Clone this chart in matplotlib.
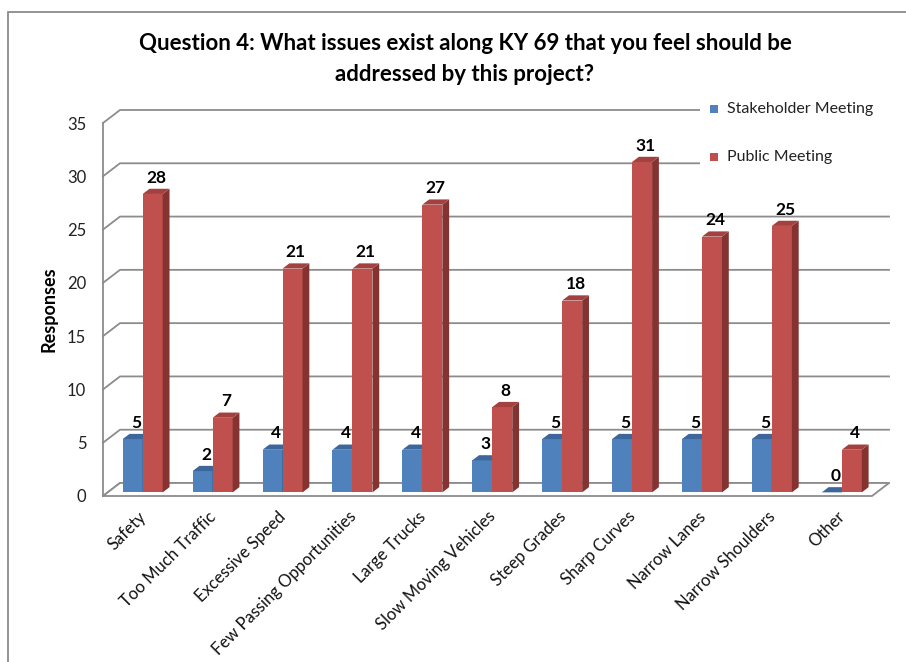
import numpy as np
import matplotlib
matplotlib.use('Agg')
import matplotlib.pyplot as plt
from matplotlib.patches import Polygon, Rectangle

plt.rcParams['font.family'] = ['Lato', 'DejaVu Sans']

# 数据
categories = ['Safety', 'Too Much Traffic', 'Excessive Speed', 'Few Passing Opportunities',
              'Large Trucks', 'Slow Moving Vehicles', 'Steep Grades', 'Sharp Curves',
              'Narrow Lanes', 'Narrow Shoulders', 'Other']
stakeholder = [5, 2, 4, 4, 4, 3, 5, 5, 5, 5, 0]
public = [28, 7, 21, 21, 27, 8, 18, 31, 24, 25, 4]
series_names = ['Stakeholder Meeting', 'Public Meeting']
yticks = [0, 5, 10, 15, 20, 25, 30, 35]

W, H = 906, 662
fig = plt.figure(figsize=(W / 100, H / 100), dpi=100)

# 前平面: x 103..872 px, y 0 -> 496 px, 35 -> 123 px
ax = fig.add_axes([103 / W, (H - 496) / H, 769 / W, 373 / H])
ax.set_xlim(-0.5, 10.5)
ax.set_ylim(0, 35)

px_x = 769 / 11.0   # 每个类别的像素
px_y = 373 / 35.0   # 每个单位的像素
ddx, ddy = 17 / px_x, 13 / px_y   # 底面深度
grid_c = '#8c8c8c'

# 背景墙网格线
for v in yticks:
    ax.plot([-0.5, -0.5 + ddx, 10.5 + ddx], [v, v + ddy, v + ddy],
            color=grid_c, lw=1.3, clip_on=False, zorder=1)
ax.plot([-0.5, -0.5], [0, 35], color=grid_c, lw=1.3, clip_on=False, zorder=1)
# 底面
ax.add_patch(Polygon([(-0.5, 0), (10.5, 0), (10.5 + ddx, ddy), (-0.5 + ddx, ddy)],
                     closed=True, facecolor='white', edgecolor=grid_c, lw=1.3,
                     clip_on=False, zorder=1))

bw = 20 / px_x
off_x, off_y = 0.28 * ddx, 0.28 * ddy
bdx, bdy = 0.4 * ddx, 0.4 * ddy

colors = [('#4f81bd', '#3d679b', '#34567f'), ('#c0504d', '#a3413f', '#843331')]


def draw_bar(x0, h, cols):
    front, top, side = cols
    x = x0 + off_x
    y = off_y
    if h > 0:
        ax.add_patch(Rectangle((x, y), bw, h, facecolor=front, edgecolor='none',
                               clip_on=False, zorder=3))
        ax.add_patch(Polygon([(x + bw, y), (x + bw + bdx, y + bdy), (x + bw + bdx, y + h + bdy),
                              (x + bw, y + h)], closed=True, facecolor=side,
                             edgecolor='none', clip_on=False, zorder=3))
    ax.add_patch(Polygon([(x, y + h), (x + bw, y + h), (x + bw + bdx, y + h + bdy),
                          (x + bdx, y + h + bdy)], closed=True, facecolor=top,
                         edgecolor='none', clip_on=False, zorder=3))
    ax.text(x + bw / 2 + bdx / 2, y + h + bdy + 0.3, f'{h}', ha='center', va='bottom',
            fontsize=12.5, fontweight='bold', color='black', zorder=4)


idx = np.arange(len(categories))
for i in idx:
    draw_bar(i - bw, stakeholder[i], colors[0])
    draw_bar(i, public[i], colors[1])

for s in ax.spines.values():
    s.set_visible(False)
ax.set_yticks(yticks)
ax.set_yticklabels([str(v) for v in yticks], fontsize=12, color='#222222')
ax.set_xticks(idx)
ax.set_xticklabels(categories, rotation=45, ha='right', rotation_mode='anchor',
                   fontsize=12, color='#111111')
ax.tick_params(axis='y', length=0, pad=12)
ax.tick_params(axis='x', length=0, pad=9)
ax.set_ylabel('Responses', fontsize=13, fontweight='bold', labelpad=7)
ax.patch.set_visible(False)

# 标题
fig.text(465 / W, 1 - 59 / H, 'Question 4: What issues exist along KY 69 that you feel should be\naddressed by this project?',
         ha='center', va='center', fontsize=16, fontweight='bold', linespacing=1.6)

# 图例 (白底遮住网格线)
fig.patches.append(Rectangle((700 / W, 1 - 182 / H), 200 / W, 90 / H,
                             transform=fig.transFigure, facecolor='white', edgecolor='none'))
for k, (name, yc) in enumerate(zip(series_names, [109, 157])):
    fig.patches.append(Rectangle((710 / W, 1 - (yc + 4) / H), 8 / W, 8 / H,
                                 transform=fig.transFigure, facecolor=colors[k][0],
                                 edgecolor='none'))
    fig.text(727 / W, 1 - yc / H, name, ha='left', va='center', fontsize=11.5, color='#222222')

# 外框
fig.patches.append(Rectangle((8 / W, -0.1), 1.2, 1.1 - 12 / H, transform=fig.transFigure,
                             facecolor='none', edgecolor='#8a8a8a', lw=1.3))

fig.savefig('out.png', dpi=100)
